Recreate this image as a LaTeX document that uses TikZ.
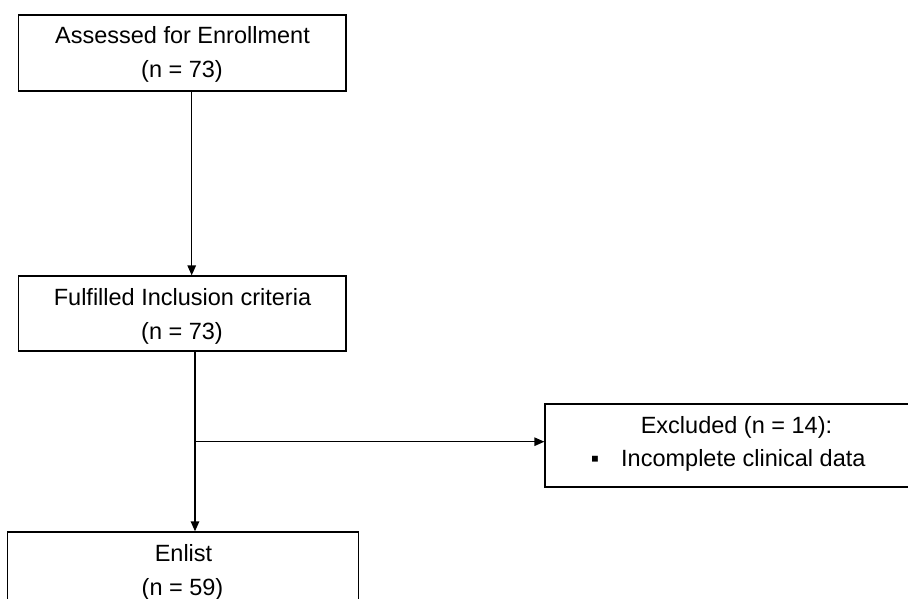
\documentclass[tikz,border=0pt]{standalone}
\usepackage{fontspec}
\setmainfont{Liberation Sans}
\usetikzlibrary{arrows.meta}
\begin{document}
\begin{tikzpicture}[x=1pt,y=-1pt,
  box/.style={draw=black, line width=1.3pt, rectangle, inner sep=0pt},
  lbl/.style={font=\fontsize{23.5}{28}\selectfont, inner sep=0pt, text=black, anchor=base},
  conn/.style={draw=black, line width=1.3pt},
  arr/.style={conn, -{Triangle[length=10pt,width=8.5pt]}}]
\useasboundingbox (0,0) rectangle (908,599);
% boxes
\node[box, minimum width=327.7pt, minimum height=76pt] (b1) at (182.2,53) {};
\node[box, minimum width=327.7pt, minimum height=75pt] (b2) at (182.2,313.5) {};
\node[box, minimum width=382pt, minimum height=83pt] (b3) at (736,445.5) {};
\node[box, minimum width=351.4pt, minimum height=76pt] (b4) at (183,570) {};
% labels
\node[lbl] (t1a) at (182.5,44) {Assessed for Enrollment};
\node[lbl] (t1b) at (182,78) {(n = 73)};
\node[lbl] (t2a) at (182.5,305) {Fulfilled Inclusion criteria};
\node[lbl] (t2b) at (182,339) {(n = 73)};
\node[lbl] (t3a) at (736.5,433) {Excluded (n = 14):};
\node[lbl] (t3bul) at (595,466) {▪};
\node[lbl, anchor=base west] (t3b) at (621,466) {Incomplete clinical data};
\node[lbl] (t4a) at (183.5,561) {Enlist};
\node[lbl] (t4b) at (182.5,595) {(n = 59)};
% connectors
\coordinate (j0) at (191.7,0);
\coordinate (j1) at (195,441.7);
\draw[arr] (j0 |- b1.south) -- (j0 |- b2.north);
\draw[arr] (j1 |- b2.south) -- (j1 |- b4.north);
\draw[arr] (j1) -- (j1 -| b3.west);
\end{tikzpicture}
\end{document}
